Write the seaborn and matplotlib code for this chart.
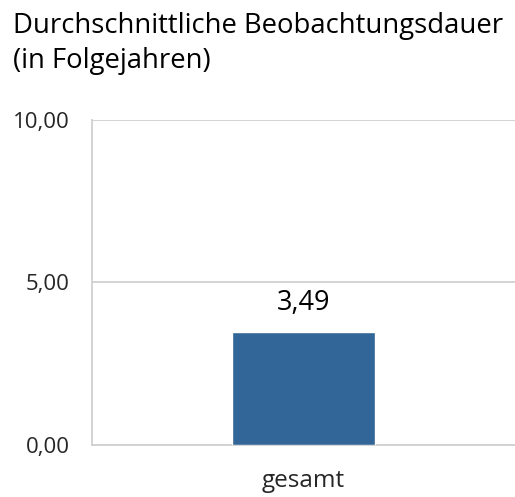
import numpy as np
import pandas as pd
import matplotlib
matplotlib.use("Agg")
import matplotlib.pyplot as plt
import seaborn as sns

categories = ["gesamt"]
values = [3.49]
yticks = [0, 5, 10]

sns.set_theme(style="white")
plt.rcParams["font.family"] = ["Open Sans", "DejaVu Sans"]

df = pd.DataFrame({"kategorie": categories, "dauer": values})

fig = plt.figure(figsize=(5.15, 4.97), dpi=100)
ax = fig.add_axes([0.1786, 0.1046, 0.8214, 0.654])

sns.barplot(data=df, x="kategorie", y="dauer", color="#326699", width=0.34,
            saturation=1, ax=ax, zorder=3)

ax.set_ylim(0, 10)
ax.set_xlim(-0.5, 0.5)
ax.set_yticks(yticks)
ax.set_yticklabels([f"{v:.2f}".replace(".", ",") for v in yticks], fontsize=16)
ax.tick_params(axis="x", labelsize=17.5, pad=17, length=0)
ax.tick_params(axis="y", pad=16, length=0)
ax.yaxis.grid(True, color="#d0d0d0", linewidth=1.3, zorder=0)
ax.set_xlabel("")
ax.set_ylabel("")
for s in ["top", "right"]:
    ax.spines[s].set_visible(False)
ax.spines["left"].set_color("#d0d0d0")
ax.spines["left"].set_linewidth(1.3)
ax.spines["bottom"].set_color("#d0d0d0")
ax.spines["bottom"].set_linewidth(1.3)

for i, v in enumerate(values):
    ax.text(i, v + 0.45, f"{v:.2f}".replace(".", ","), ha="center", va="bottom",
            fontsize=19.5, color="black")

fig.text(0.025, 0.975, "Durchschnittliche Beobachtungsdauer\n(in Folgejahren)",
         ha="left", va="top", fontsize=19.8, linespacing=1.3, color="black")

fig.savefig("out.png", dpi=100)
